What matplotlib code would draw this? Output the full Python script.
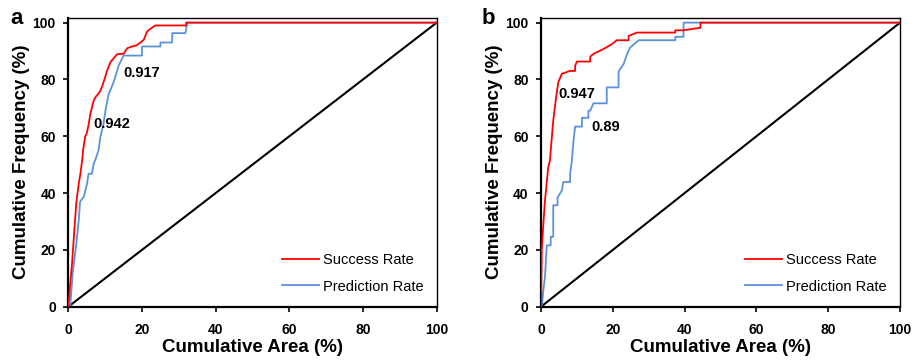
import matplotlib
matplotlib.use("Agg")
import matplotlib.pyplot as plt

plt.rcParams['font.family'] = ['Liberation Sans', 'DejaVu Sans']

# Panel a: cumulative frequency vs cumulative area
a_success_x = [0, 0.5, 1.0, 1.3, 1.8, 2.2, 2.8, 3.3, 3.8, 4.0, 4.6, 5.0, 5.5, 6.0, 6.9, 7.5, 8.2, 8.7,
               9.3, 10.0, 10.5, 11.4, 12.0, 13.2, 14.0, 15.0, 16.0, 17.3, 18.5, 19.6, 20.5, 21.4, 22.5,
               23.6, 32.0, 32.0, 100]
a_success_y = [0, 8, 15, 20.6, 30, 37, 43, 47, 52, 55, 60, 61, 64, 68, 72.6, 74, 75, 76,
               78, 80.8, 83, 86, 87, 88.8, 89, 89, 91, 91.6, 92, 93, 94, 96.9, 98,
               99, 99, 100, 100]
a_pred_x = [0, 0.5, 1.2, 2.3, 2.8, 3.2, 4.2, 5.1, 5.5, 6.4, 6.9, 7.3, 8.2, 8.7, 9.5, 10.2, 11.0,
            12.3, 13.0, 13.7, 15.0, 20.0, 20.0, 25.0, 25.0, 28.2, 28.2, 31.8, 32.3, 100]
a_pred_y = [0, 0, 12, 23.5, 30, 37, 38.7, 43.4, 46.8, 46.8, 50.4, 51.6, 55, 59.8, 64, 70, 75,
            79, 82, 85, 88.4, 88.4, 91.6, 91.6, 93, 93, 96.3, 96.3, 100, 100]

# Panel b
b_success_x = [0, 0.2, 0.65, 1.1, 2.0, 2.5, 2.7, 3.4, 4.2, 4.8, 5.8, 8.1, 9.5, 9.5, 10.0, 13.7, 13.7,
               14.6, 17.4, 19.7, 21.1, 24.4, 24.4, 26.7, 37.4, 37.4, 39.7, 44.4, 44.4, 100]
b_success_y = [0, 20, 29.3, 37.4, 49, 51.5, 55, 65.5, 73.7, 79, 82, 83, 83, 84.8, 86.3, 86.3, 88,
               89, 90.7, 92.4, 93.8, 93.8, 95.3, 96.5, 96.5, 97.3, 97.3, 98.2, 100, 100]
b_pred_x = [0.2, 0.65, 1.1, 1.6, 2.7, 2.7, 3.4, 3.4, 4.6, 4.6, 5.8, 6.2, 8.1, 8.1, 8.6, 9.0, 9.5,
            11.4, 11.4, 13.2, 13.2, 13.7, 14.6, 18.3, 18.3, 21.6, 21.6, 23.0, 23.9, 24.8, 27.2,
            37.4, 37.4, 39.7, 39.7, 100]
b_pred_y = [0, 5.8, 10.5, 21.6, 21.6, 24.6, 24.6, 35.7, 35.7, 38.4, 40.9, 43.9, 43.9, 46.8, 51.5,
            57.9, 63.4, 63.4, 66.5, 66.5, 69, 69, 71.6, 71.6, 77.2, 77.2, 82.8, 85.4, 88.7, 91.2,
            93.8, 93.8, 95, 95, 100, 100]

panels = [
    ("a", a_success_x, a_success_y, a_pred_x, a_pred_y,
     [("0.917", 14.9, 82.1), ("0.942", 6.8, 64.3)], -0.158),
    ("b", b_success_x, b_success_y, b_pred_x, b_pred_y,
     [("0.947", 4.8, 74.9), ("0.89", 14.0, 63.2)], -0.165),
]
ticks = [0, 20, 40, 60, 80, 100]

fig = plt.figure(figsize=(9.17, 3.61), dpi=100)
boxes = [[0.0745, 0.1504, 0.4017, 0.8011], [0.590, 0.1504, 0.3915, 0.8011]]

for box, (tag, sx, sy, px, py, notes, tag_x) in zip(boxes, panels):
    ax = fig.add_axes(box)
    ax.plot([0, 100], [0, 100], color='black', lw=1.5, zorder=1)
    ax.plot(px, py, color='#5B93DB', lw=1.3, label='Prediction Rate', zorder=2)
    ax.plot(sx, sy, color='#FF0000', lw=1.3, label='Success Rate', zorder=3)
    ax.set_xlim(0, 100)
    ax.set_ylim(0, 101.8)
    ax.set_xticks(ticks)
    ax.set_yticks(ticks)
    ax.tick_params(direction='out', length=3.5, width=1.2, labelsize=10)
    ax.tick_params(axis='x', pad=8)
    ax.tick_params(axis='y', pad=5.5)
    for lab in ax.get_xticklabels() + ax.get_yticklabels():
        lab.set_fontweight('bold')
    for side in ['left', 'bottom']:
        ax.spines[side].set_linewidth(1.6)
    for side in ['top', 'right']:
        ax.spines[side].set_linewidth(1.0)
    ax.set_xlabel('Cumulative Area (%)', fontsize=13.5, fontweight='bold', labelpad=2)
    ax.set_ylabel('Cumulative Frequency (%)', fontsize=13.5, fontweight='bold', labelpad=2)
    for txt, x, y in notes:
        ax.text(x, y, txt, fontsize=10.5, fontweight='bold', va='center', ha='left')
    handles, labels = ax.get_legend_handles_labels()
    ax.legend(handles[::-1], labels[::-1], loc='lower right', frameon=False, fontsize=10.5,
              handlelength=2.5, handletextpad=0.3, labelspacing=0.85,
              bbox_to_anchor=(1.0, 0.0))
    ax.text(tag_x, 0.997, tag, transform=ax.transAxes, fontsize=16, fontweight='bold',
            va='center', ha='left')

fig.savefig('out.png', dpi=100)
